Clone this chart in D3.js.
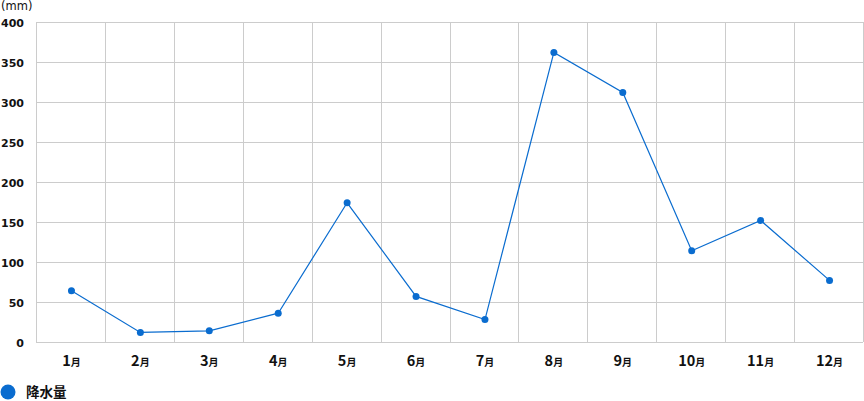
<!DOCTYPE html>
<html><head><meta charset="utf-8">
<script src="https://cdn.jsdelivr.net/npm/d3@7"></script>
<style>body{margin:0;background:#fff;} svg{display:block;}</style>
</head><body>
<script>
const months = ["1","2","3","4","5","6","7","8","9","10","11","12"];
const rainfall = [64, 12, 14, 36, 174, 57, 28, 362, 312, 114, 152, 77];
const yTicks = [0, 50, 100, 150, 200, 250, 300, 350, 400];
const seriesName = "降水量";
const unitLabel = "(mm)";

const W = 864, H = 401;
const m = {left: 36, right: 1, top: 22, bottom: 59};
const color = "#0a6ccf";
const font = "'Noto Sans CJK JP', 'Noto Sans', sans-serif";
const numFont = "'DejaVu Sans', sans-serif";

const svg = d3.select("body").append("svg").attr("width", W).attr("height", H);
const x = d3.scaleBand().domain(months).range([m.left, W - m.right]);
const y = d3.scaleLinear().domain([0, 400]).range([H - m.bottom, m.top]);

// grid
svg.append("g").selectAll("line.h").data(yTicks).join("line")
  .attr("x1", m.left).attr("x2", W - m.right)
  .attr("y1", d => Math.round(y(d)) + 0.5).attr("y2", d => Math.round(y(d)) + 0.5)
  .attr("stroke", "#cccccc").attr("stroke-width", 1);
const vx = months.map(d => x(d)).concat([W - m.right]);
svg.append("g").selectAll("line.v").data(vx).join("line")
  .attr("x1", d => Math.round(d) + 0.5).attr("x2", d => Math.round(d) + 0.5)
  .attr("y1", m.top).attr("y2", H - m.bottom)
  .attr("stroke", "#cccccc").attr("stroke-width", 1);

// y labels
svg.append("g").selectAll("text").data(yTicks).join("text")
  .attr("x", 24).attr("y", d => y(d) + 4.5)
  .attr("text-anchor", "end")
  .attr("font-family", numFont).attr("font-weight", "bold").attr("font-size", 11)
  .attr("fill", "#111").text(d => d);

svg.append("text").attr("x", 1).attr("y", 9.5)
  .attr("font-family", numFont).attr("font-size", 11.5).attr("fill", "#111").text(unitLabel);

// x labels
const xl = svg.append("g").selectAll("text").data(months).join("text")
  .attr("x", d => x(d) + x.bandwidth() / 2 + 1).attr("y", 366)
  .attr("text-anchor", "middle")
  .attr("font-family", font).attr("font-weight", "bold").attr("fill", "#111");
xl.append("tspan").attr("font-size", 14.5).text(d => d);
xl.append("tspan").attr("font-size", 10).text("月");

// line
const line = d3.line().x((d, i) => x(months[i]) + x.bandwidth() / 2 + 1).y(d => y(d));
svg.append("path").datum(rainfall).attr("d", line)
  .attr("fill", "none").attr("stroke", color).attr("stroke-width", 1.2);
svg.append("g").selectAll("circle").data(rainfall).join("circle")
  .attr("cx", (d, i) => x(months[i]) + x.bandwidth() / 2 + 1).attr("cy", d => y(d))
  .attr("r", 3.5).attr("fill", color);

// legend
svg.append("circle").attr("cx", 8).attr("cy", 392).attr("r", 7.5).attr("fill", color);
svg.append("text").attr("x", 26).attr("y", 397)
  .attr("font-family", font).attr("font-weight", "bold").attr("font-size", 13.5)
  .attr("fill", "#111").text(seriesName);
</script>
</body></html>
